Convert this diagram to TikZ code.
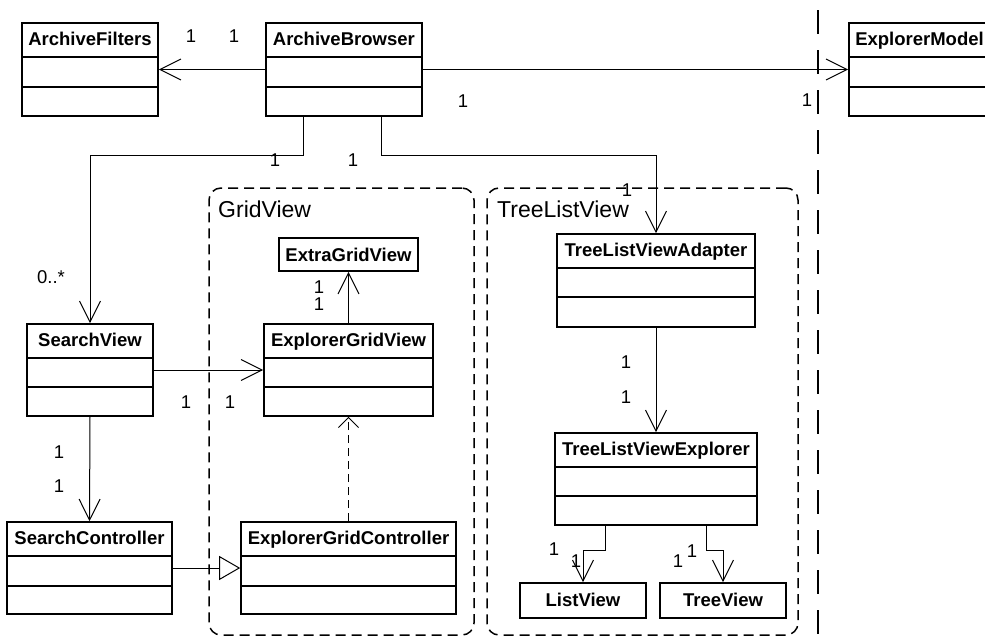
\documentclass[tikz,border=0pt]{standalone}
\usepackage{fontspec}
\setmainfont{Liberation Sans}
\usetikzlibrary{arrows.meta,fit}

\tikzset{
  cls/.style={draw, line width=1.6pt, inner sep=0pt},
  sepline/.style={line width=1.6pt},
  title/.style={font=\fontsize{18.5}{20}\selectfont\bfseries, anchor=base, inner sep=0pt},
  mult/.style={font=\fontsize{18.5}{20}\selectfont, anchor=base, inner sep=0pt},
  pkg/.style={draw, dash pattern=on 10pt off 6pt, line width=1.5pt, rounded corners=12pt, inner sep=0pt},
  pkgname/.style={font=\fontsize{23}{25}\selectfont, anchor=base west, inner sep=0pt},
  assoc/.style={line width=1pt, -{Straight Barb[length=21pt,width=21pt,line width=1pt]}},
  gen/.style={line width=1pt, -{Triangle[open,length=21pt,width=24pt,line width=1pt]}},
  dep/.style={line width=1pt, dash pattern=on 8pt off 5pt, -{Straight Barb[length=10pt,width=20pt,line width=1pt]}},
  border/.style={line width=1.5pt, dash pattern=on 24pt off 16pt}
}

% class with name, attribute and operation compartments
% #1 name, #2 left, #3 top, #4 right, #5 bottom, #6 first rule, #7 second rule, #8 title
\newcommand\umlclass[8]{%
  \node[cls, fit={(#2,#3) (#4,#5)}] (#1) {};
  \node[title] (#1-name) at ({(#2+#4)/2},{#3+22.5}) {#8};
  \draw[sepline] (#2,#6) -- (#4,#6);
  \draw[sepline] (#2,#7) -- (#4,#7);
}
% class shown with its name only
\newcommand\umlname[6]{%
  \node[cls, fit={(#2,#3) (#4,#5)}] (#1) {};
  \node[title] (#1-name) at ({(#2+#4)/2},{#3+23}) {#6};
}

\begin{document}
\begin{tikzpicture}[x=1pt,y=-1pt]
\useasboundingbox (0,0) rectangle (985,637);
\clip (0,0) rectangle (985,637);
\fill[white] (0,0) rectangle (985,637);

% packages
\node[pkg, fit={(209,188) (474,635)}] (gridpkg) {};
\node[pkgname] (gridpkg-name) at (218,217) {GridView};
\node[pkg, fit={(487,188) (798,635)}] (treepkg) {};
\node[pkgname] (treepkg-name) at (497,217) {TreeListView};

% boundary
\draw[border] (818,10) -- (818,637);

% classes
\umlclass{af}{22}{23}{158}{116}{56.7}{86.7}{ArchiveFilters}
\umlclass{ab}{266}{23}{421.7}{116}{56.7}{86.7}{ArchiveBrowser}
\umlclass{em}{849}{23}{990}{116}{56.7}{86.7}{ExplorerModel}
\umlclass{sv}{27}{324}{153}{416}{358}{387}{SearchView}
\umlclass{egv}{264}{324}{433}{416}{358}{387}{ExplorerGridView}
\umlname{xgv}{279}{238}{418}{271}{ExtraGridView}
\umlclass{sc}{7}{522}{172}{614}{556}{586}{SearchController}
\umlclass{egc}{241}{522}{456}{614}{556}{586}{ExplorerGridController}
\umlclass{tla}{557}{234}{755}{327}{268}{297}{TreeListViewAdapter}
\umlclass{tle}{555}{433}{757}{525}{467}{496}{TreeListViewExplorer}
\umlname{lv}{520}{583}{646}{618}{ListView}
\umlname{tv}{660}{583}{786}{618}{TreeView}

% associations
\draw[assoc] (ab.west) -- (af.east);
\draw[assoc] (ab.east) -- (em.west);
\draw[assoc] ([xshift=38pt]ab.south west) -- ++(0,39) -| (sv.north);
\draw[assoc] ([xshift=116pt]ab.south west) -- ++(0,39) -| (tla.north);
\draw[assoc] (sv.east) -- (egv.west);
\draw[assoc] (egv.north) -- (xgv.south);
\draw[assoc] (sv.south) -- (sc.north);
\draw[assoc] (tla.south) -- (tle.north);
\draw[assoc] ([xshift=51pt]tle.south west) -- ++(0,25) -| (lv.north);
\draw[assoc] ([xshift=152pt]tle.south west) -- ++(0,25) -| (tv.north);

% generalization and dependency
\draw[gen] (sc.east) -- (egc.west);
\draw[dep] (egc.north) -- (egv.south);

% multiplicities
\node[mult] (m1) at (191,42) {1};
\node[mult] (m2) at (234,42) {1};
\node[mult] (m3) at (463,107) {1};
\node[mult] (m4) at (807,106) {1};
\node[mult] (m5) at (275,166) {1};
\node[mult] (m6) at (353,166) {1};
\node[mult] (m7) at (51,283) {0..*};
\node[mult] (m8) at (627,196) {1};
\node[mult] (m9) at (319,293) {1};
\node[mult] (m10) at (319,310) {1};
\node[mult] (m11) at (186,408) {1};
\node[mult] (m12) at (230,408) {1};
\node[mult] (m13) at (59,458) {1};
\node[mult] (m14) at (59,492) {1};
\node[mult] (m15) at (626,368) {1};
\node[mult] (m16) at (626,403) {1};
\node[mult] (m17) at (554,555) {1};
\node[mult] (m18) at (576,567) {1};
\node[mult] (m19) at (678,567) {1};
\node[mult] (m20) at (692,557) {1};
\end{tikzpicture}
\end{document}
